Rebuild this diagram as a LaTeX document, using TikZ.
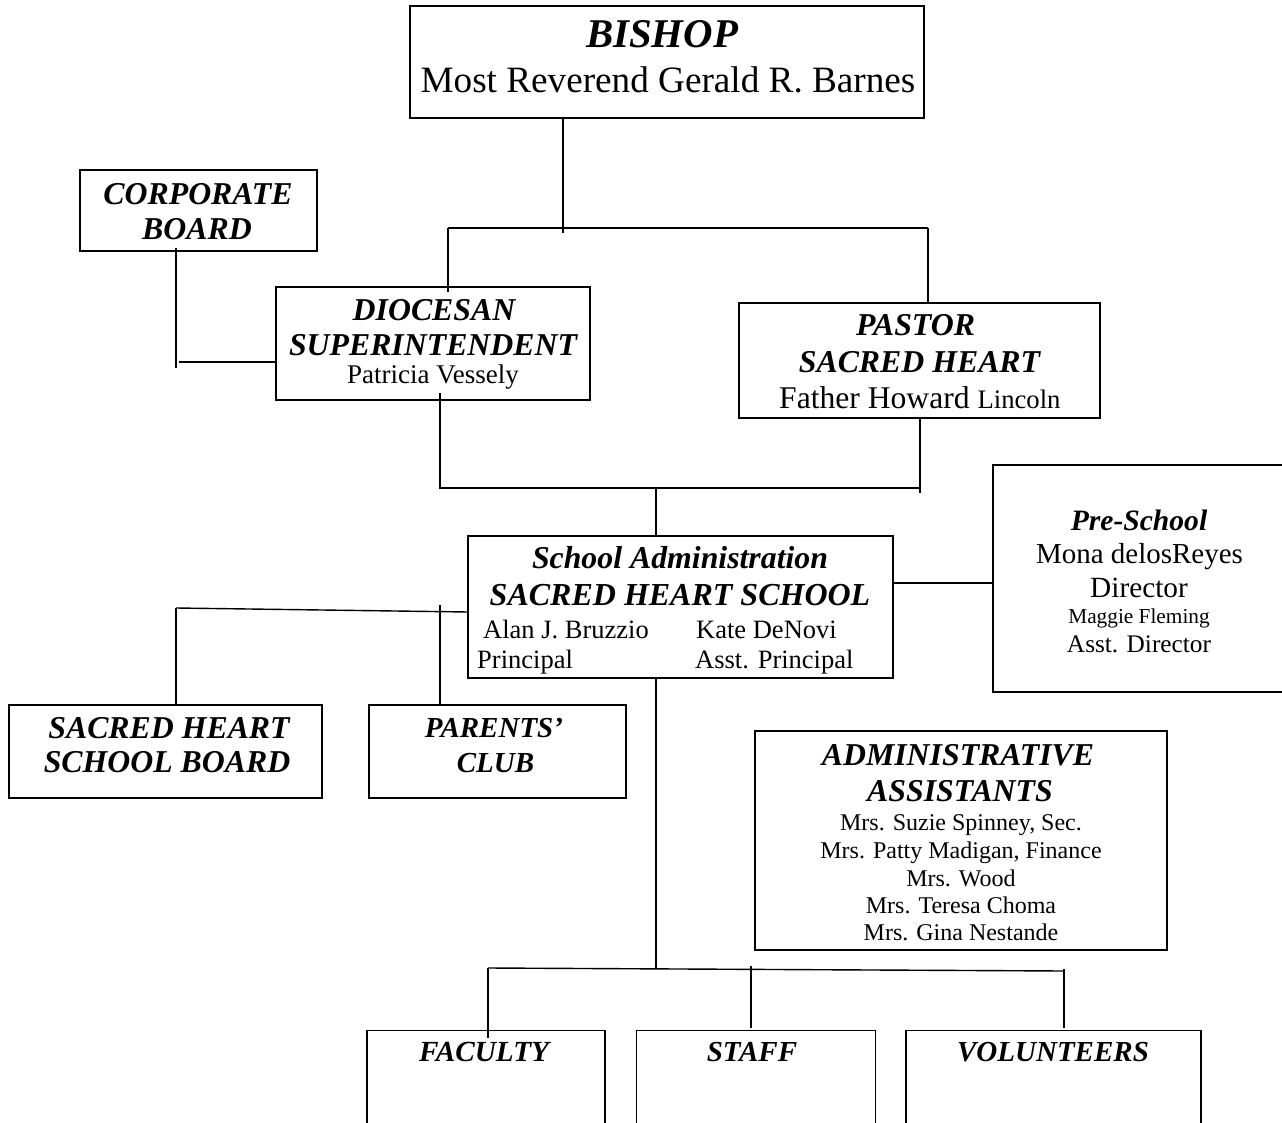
\documentclass[tikz,border=0pt]{standalone}
\usepackage{fontspec}
\setmainfont{Liberation Serif}
\newcommand\fs[1]{\fontsize{#1}{#1}\selectfont}
\tikzset{
 box/.style={draw, line width=1.6pt, inner sep=0pt, outer sep=0pt},
 conn/.style={line width=1.4pt},
 hd/.style={anchor=base, inner sep=0pt, font=\fs{31.8}\bfseries\itshape},
 tx/.style={anchor=base, inner sep=0pt, font=\fs{25}},
 txl/.style={anchor=base west, inner sep=0pt, font=\fs{26.5}},
}
\begin{document}
\begin{tikzpicture}[x=1pt,y=-1pt]
\clip (0,0) rectangle (1282,1123);
\fill[white] (0,0) rectangle (1282,1123);
% boxes
\node[box, minimum width=514pt, minimum height=112pt] (bishop) at (667,62) {};
\node[box, minimum width=237pt, minimum height=81pt] (corp) at (198.5,210.5) {};
\node[box, minimum width=314pt, minimum height=113pt] (dioc) at (433,343.5) {};
\node[box, minimum width=361pt, minimum height=115pt] (pastor) at (919.5,360.5) {};
\node[box, minimum width=425pt, minimum height=142pt] (admin) at (680.5,607) {};
\node[box, minimum width=297pt, minimum height=227pt] (pre) at (1141.5,578.5) {};
\node[box, minimum width=313pt, minimum height=93pt] (shsb) at (165.5,751.5) {};
\node[box, minimum width=257pt, minimum height=93pt] (parents) at (497.5,751.5) {};
\node[box, minimum width=412pt, minimum height=219pt] (aa) at (961,840.5) {};
\node[box, minimum width=238pt, minimum height=110pt] (faculty) at (486,1085.5) {};
\node[box, minimum width=239pt, minimum height=110pt] (staff) at (756,1085.5) {};
\node[box, minimum width=295pt, minimum height=110pt] (vol) at (1053.5,1085.5) {};
% texts
\node[hd, font=\fs{40.8}\bfseries\itshape] (t1) at (662,48) {BISHOP};
\node[tx, font=\fs{37.2}] (t2) at (668,93) {Most Reverend Gerald R. Barnes};
\node[hd] (t3) at (198,205) {CORPORATE};
\node[hd] (t4) at (197,240) {BOARD};
\node[hd] (t5) at (434,320) {DIOCESAN};
\node[hd] (t6) at (433,355) {SUPERINTENDENT};
\node[tx, font=\fs{27}] (t7) at (433,383) {Patricia Vessely};
\node[hd] (t8) at (915.5,335) {PASTOR};
\node[hd] (t9) at (919.5,372) {SACRED HEART};
\node[anchor=base west, inner sep=0pt] (t10) at (779,408) {\fs{31.6}Father Howard \fs{26.7}Lincoln};
\node[hd] (t11) at (680,568) {School Administration};
\node[hd, font=\fs{32}\bfseries\itshape] (t12) at (680,605) {SACRED HEART SCHOOL};
\node[txl] (t13) at (483,638) {Alan J. Bruzzio};
\node[txl] (t14) at (696,638) {Kate DeNovi};
\node[txl] (t15) at (477,668) {Principal};
\node[txl] (t16) at (695,668) {Asst. Principal};
\node[hd, font=\fs{29.6}\bfseries\itshape] (t17) at (1139,530) {Pre-School};
\node[tx, font=\fs{29}] (t18) at (1139.5,563) {Mona delosReyes};
\node[tx, font=\fs{29.3}] (t19) at (1139,597) {Director};
\node[tx, font=\fs{21.3}] (t20) at (1139,623) {Maggie Fleming};
\node[tx, font=\fs{25.3}] (t21) at (1139,652) {Asst. Director};
\node[hd] (t22) at (169,738) {SACRED HEART};
\node[hd] (t23) at (167,772) {SCHOOL BOARD};
\node[hd, font=\fs{29}\bfseries\itshape] (t24) at (494,737) {PARENTS’};
\node[hd, font=\fs{29}\bfseries\itshape] (t25) at (495.5,772) {CLUB};
\node[hd] (t26) at (958,765) {ADMINISTRATIVE};
\node[hd] (t27) at (960,801) {ASSISTANTS};
\node[tx, font=\fs{24}] (t28) at (961,830) {Mrs. Suzie Spinney, Sec.};
\node[tx, font=\fs{24}] (t29) at (961,858) {Mrs. Patty Madigan, Finance};
\node[tx, font=\fs{24}] (t30) at (961,886) {Mrs. Wood};
\node[tx, font=\fs{24}] (t31) at (961,913) {Mrs. Teresa Choma};
\node[tx, font=\fs{24}] (t32) at (961,940) {Mrs. Gina Nestande};
\node[hd, font=\fs{29.2}\bfseries\itshape] (t33) at (484,1061) {FACULTY};
\node[hd, font=\fs{29}\bfseries\itshape] (t34) at (752,1061) {STAFF};
\node[hd, font=\fs{29}\bfseries\itshape] (t35) at (1053,1061) {VOLUNTEERS};
% connectors
\coordinate (jb) at (563,233);
\coordinate (jl) at (448,228);
\coordinate (jr) at (928,228);
\draw[conn] (bishop.south -| jb) -- (jb);
\draw[conn] (jl) -- (jr);
\draw[conn] (jl) -- ([yshift=-5pt]dioc.north -| jl);
\draw[conn] (jr) -- (pastor.north -| jr);
\coordinate (cb) at (176,368);
\coordinate (ch) at (179,362);
\draw[conn] ([yshift=3pt]corp.south -| cb) -- (cb);
\draw[conn] (ch) -- (dioc.west |- ch);
\coordinate (d1) at (440,488);
\coordinate (p1) at (920,488);
\draw[conn] ([yshift=7pt]dioc.south -| d1) -- (d1) -- (p1);
\draw[conn] ([yshift=1pt]pastor.south -| p1) -- ([yshift=-5pt]p1);
\coordinate (m1) at (656,488);
\draw[conn] (m1) -- (admin.north -| m1);
\coordinate (e1) at (900,583);
\draw[conn] (admin.east |- e1) -- (pre.west |- e1);
\coordinate (l1) at (176,608);
\coordinate (l2) at (440,605);
\coordinate (l3) at (468,612);
\draw[conn] (l1) -- (admin.west |- l3);
\draw[conn] (l1) -- (shsb.north -| l1);
\draw[conn] (l2) -- (parents.north -| l2);
\coordinate (b1) at (656,968);
\draw[conn] (admin.south -| b1) -- (b1);
\coordinate (bl) at (488,968);
\coordinate (br) at (1064,971);
\draw[conn] (bl) -- (br);
\draw[conn] (bl) -- ([yshift=-7pt]faculty.north -| bl);
\coordinate (bs) at (751,966);
\draw[conn] (bs) -- ([yshift=3pt]staff.north -| bs);
\coordinate (bv) at (1064,969);
\draw[conn] (bv) -- ([yshift=3pt]vol.north -| bv);
\end{tikzpicture}
\end{document}
